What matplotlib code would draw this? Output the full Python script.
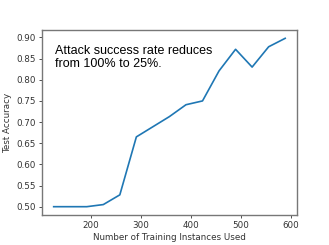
import matplotlib
matplotlib.use("Agg")
from matplotlib import pyplot as plt

# training set sizes and the resulting test accuracy
n_instances = [126, 159, 192, 225, 258, 291, 324, 357, 390, 423, 456, 489, 522, 555, 588]
test_acc = [0.500, 0.500, 0.500, 0.505, 0.528, 0.665, 0.689, 0.713, 0.741, 0.750,
            0.821, 0.872, 0.830, 0.878, 0.898]

note = "Attack success rate reduces\nfrom 100% to 25%."

fig = plt.figure(figsize=(3.29, 2.45), dpi=100)
ax = fig.add_axes([0.128, 0.122, 0.774, 0.756])

ax.plot(n_instances, test_acc, color="#1f77b4", lw=1.2)
ax.set_xticks([200, 300, 400, 500, 600])
ax.set_yticks([0.50, 0.55, 0.60, 0.65, 0.70, 0.75, 0.80, 0.85, 0.90])
ax.tick_params(labelsize=6.3, length=2.5, width=0.6, pad=2, colors="#333333")
ax.set_xlabel("Number of Training Instances Used", fontsize=6.3, labelpad=2, color="#333333")
ax.set_ylabel("Test Accuracy", fontsize=6.3, labelpad=3, color="#333333")
for s in ax.spines.values():
    s.set_color("#777777")
    s.set_linewidth(1.0)

ax.text(0.05, 0.92, note, transform=ax.transAxes, va="top", ha="left",
        fontsize=9, family="Liberation Sans", linespacing=1.1)

fig.savefig("out.png", dpi=100)
